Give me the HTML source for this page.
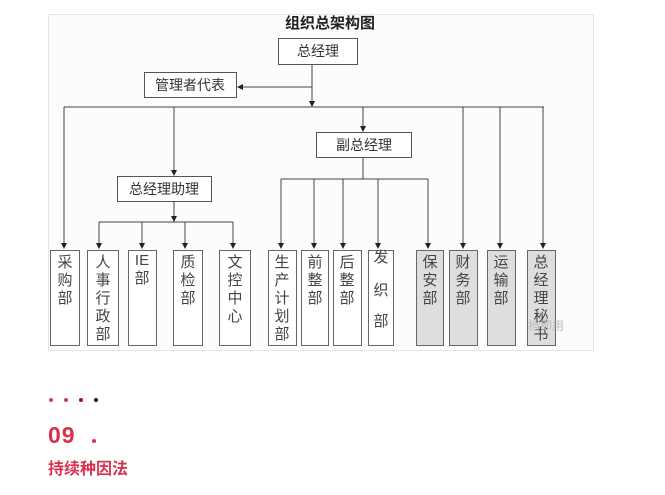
<!DOCTYPE html>
<html><head><meta charset="utf-8"><style>
body{margin:0;width:665px;height:495px;background:#fff;overflow:hidden;font-family:"Liberation Sans","Noto Sans CJK SC",sans-serif}
svg{position:absolute;left:0;top:0}
</style></head><body>
<svg width="665" height="495" viewBox="0 0 665 495">
<defs><marker id="a" markerWidth="6" markerHeight="6" refX="5" refY="3" orient="auto"><path d="M0,0 L6,3 L0,6z" fill="#222"/></marker></defs>
<rect x="48.5" y="14.5" width="545" height="336" fill="#fcfcfc" stroke="#e4e4e4"/>
<g font-family="Liberation Sans, Noto Sans CJK SC, sans-serif" fill="#333">
<text x="330" y="28" font-size="15" font-weight="bold" text-anchor="middle" fill="#222">组织总架构图</text>
<g stroke="#555" fill="#fff" stroke-width="1">
<rect x="278.5" y="38.5" width="79" height="26"/>
<rect x="144.5" y="72.5" width="92" height="25"/>
<rect x="316.5" y="132.5" width="95" height="25"/>
<rect x="117.5" y="176.5" width="94" height="25"/>
</g>
<g font-size="14" text-anchor="middle">
<text x="318" y="56">总经理</text>
<text x="190" y="90">管理者代表</text>
<text x="364" y="150">副总经理</text>
<text x="164" y="194">总经理助理</text>
</g>
<g stroke="#444" stroke-width="1" fill="none">
<path d="M312 64V106" marker-end="url(#a)"/>
<path d="M312 87H238" marker-end="url(#a)"/>
<path d="M64 107H544"/>
<path d="M64 107V248" marker-end="url(#a)"/>
<path d="M174 107V175" marker-end="url(#a)"/>
<path d="M363 107V131" marker-end="url(#a)"/>
<path d="M463 107V248" marker-end="url(#a)"/>
<path d="M500 107V248" marker-end="url(#a)"/>
<path d="M543 107V248" marker-end="url(#a)"/>
<path d="M363 157V179M281 179H428"/>
<path d="M281 179V248" marker-end="url(#a)"/>
<path d="M314 179V248" marker-end="url(#a)"/>
<path d="M343 179V248" marker-end="url(#a)"/>
<path d="M378 179V248" marker-end="url(#a)"/>
<path d="M428 179V248" marker-end="url(#a)"/>
<path d="M174 201V221" marker-end="url(#a)"/>
<path d="M99 222H233"/>
<path d="M99 222V248" marker-end="url(#a)"/>
<path d="M142 222V248" marker-end="url(#a)"/>
<path d="M185 222V248" marker-end="url(#a)"/>
<path d="M233 222V248" marker-end="url(#a)"/>
</g>
<g stroke="#666" fill="#fff">
<rect x="50.5" y="250.5" width="29" height="95"/>
<rect x="87.5" y="250.5" width="31" height="95"/>
<rect x="128.5" y="250.5" width="28" height="95"/>
<rect x="173.5" y="250.5" width="29" height="95"/>
<rect x="219.5" y="250.5" width="31" height="95"/>
<rect x="268.5" y="250.5" width="28" height="95"/>
<rect x="301.5" y="250.5" width="27" height="95"/>
<rect x="333.5" y="250.5" width="28" height="95"/>
<rect x="368.5" y="250.5" width="25" height="95"/>
<rect x="416.5" y="250.5" width="27" height="95" fill="#dedede"/>
<rect x="449.5" y="250.5" width="28" height="95" fill="#dedede"/>
<rect x="487.5" y="250.5" width="28" height="95" fill="#dedede"/>
<rect x="527.5" y="250.5" width="28" height="95" fill="#dedede"/>
</g>
<g font-size="15" text-anchor="middle" fill="#444">
<text x="65" y="267">采</text><text x="65" y="285">购</text><text x="65" y="303">部</text>
<text x="103" y="267">人</text><text x="103" y="285">事</text><text x="103" y="303">行</text><text x="103" y="321">政</text><text x="103" y="339">部</text>
<text x="142" y="265">IE</text><text x="142" y="283">部</text>
<text x="188" y="267">质</text><text x="188" y="285">检</text><text x="188" y="303">部</text>
<text x="235" y="267">文</text><text x="235" y="285">控</text><text x="235" y="303">中</text><text x="235" y="321">心</text>
<text x="282" y="267">生</text><text x="282" y="285">产</text><text x="282" y="303">计</text><text x="282" y="321">划</text><text x="282" y="339">部</text>
<text x="315" y="267">前</text><text x="315" y="285">整</text><text x="315" y="303">部</text>
<text x="347" y="267">后</text><text x="347" y="285">整</text><text x="347" y="303">部</text>
<text x="381" y="262">发</text><text x="381" y="295">织</text><text x="381" y="326">部</text>
<text x="430" y="267">保</text><text x="430" y="285">安</text><text x="430" y="303">部</text>
<text x="463" y="267">财</text><text x="463" y="285">务</text><text x="463" y="303">部</text>
<text x="501" y="267">运</text><text x="501" y="285">输</text><text x="501" y="303">部</text>
<text x="541" y="267">总</text><text x="541" y="285">经</text><text x="541" y="303">理</text><text x="541" y="321">秘</text><text x="541" y="339">书</text>
</g>
<text x="528" y="330" font-size="12" fill="#bbb">档即用</text>
</g>
<g>
<circle cx="51" cy="400" r="2" fill="#e8344e"/>
<circle cx="66" cy="400" r="2" fill="#e03050"/>
<circle cx="81" cy="400" r="2" fill="#a01030"/>
<circle cx="96" cy="400" r="2" fill="#111"/>
</g>
<text x="48" y="443" font-size="23" font-weight="bold" fill="#d9304e" font-family="Liberation Sans, sans-serif" letter-spacing="1">09</text>
<circle cx="94" cy="441" r="2" fill="#d9304e"/>
<text x="48" y="474" font-size="16" font-weight="bold" fill="#d9304e" font-family="Liberation Sans, Noto Sans CJK SC, sans-serif">持续种因法</text>
</svg>
</body></html>
